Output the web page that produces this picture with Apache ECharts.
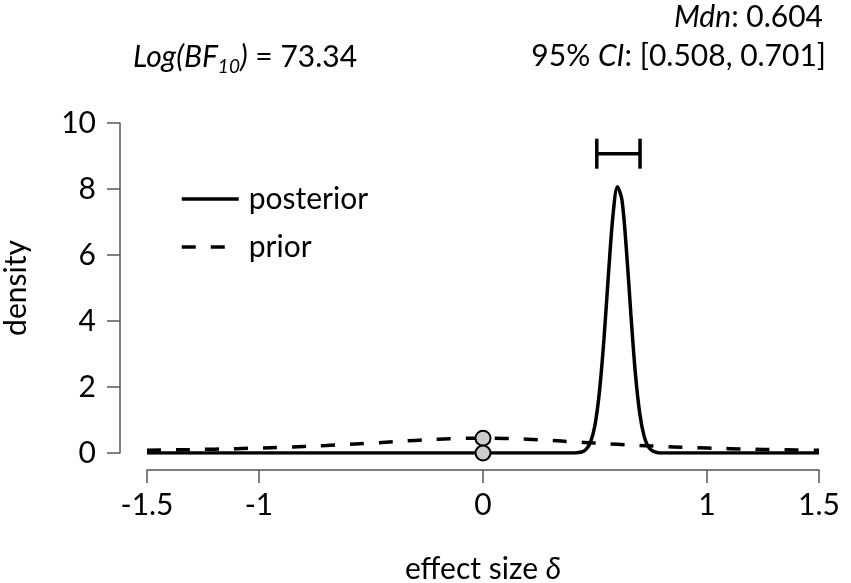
<!DOCTYPE html>
<html>
<head>
<meta charset="utf-8">
<script src="https://cdn.jsdelivr.net/npm/echarts@6/dist/echarts.min.js"></script>
<style>
  html, body { margin: 0; padding: 0; background: #fff; }
  #main { width: 851px; height: 583px; }
</style>
</head>
<body>
<div id="main"></div>
<script>
// values
var priorX = [-1.5, -1.4, -1.3, -1.2, -1.1, -1.0, -0.9, -0.8, -0.7, -0.6, -0.5, -0.4, -0.3, -0.2, -0.1, 0,
              0.1, 0.2, 0.3, 0.4, 0.5, 0.6, 0.7, 0.8, 0.9, 1.0, 1.1, 1.2, 1.3, 1.4, 1.5];
var priorY = [0.082, 0.092, 0.103, 0.116, 0.132, 0.150, 0.172, 0.198, 0.227, 0.262, 0.300, 0.341, 0.382, 0.417, 0.441, 0.450,
              0.441, 0.417, 0.382, 0.341, 0.300, 0.262, 0.227, 0.198, 0.172, 0.150, 0.132, 0.116, 0.103, 0.092, 0.082];

var postX = [-1.5, -1.0, -0.5, 0, 0.2, 0.3, 0.36, 0.40, 0.42, 0.44, 0.46, 0.48, 0.50, 0.52, 0.54, 0.56, 0.58, 0.60,
             0.62, 0.64, 0.66, 0.68, 0.70, 0.72, 0.74, 0.76, 0.78, 0.80, 0.84, 0.9, 1.0, 1.5];
var postY = [0, 0, 0, 0, 0, 0, 0, 0, 0.01, 0.03, 0.11, 0.33, 0.85, 1.87, 3.45, 5.41, 7.18, 8.07,
             7.68, 6.18, 4.22, 2.43, 1.19, 0.49, 0.17, 0.05, 0.01, 0, 0, 0, 0, 0];

var pointsAtZero = [[0, 0.45], [0, 0]];   // prior and posterior height at delta = 0
var ciBounds = [0.508, 0.701];
var ciHeight = 9.07;

var xTicks = [-1.5, -1, 0, 1, 1.5];

function pairs(xs, ys) {
	var out = [];
	for (var i = 0; i < xs.length; i++) {
		out.push([xs[i], ys[i]]);
	}
	return out;
}

var FONT = 'Lato';
var FS = 30;
var AXIS_GRAY = '#555555';

var chart = echarts.init(document.getElementById('main'), null, { renderer: 'canvas' });

var option = {
	animation: false,
	backgroundColor: '#ffffff',
	textStyle: { fontFamily: FONT, color: '#000' },
	grid: {
		left: 147,
		right: 32,
		top: 123,
		bottom: 130,
		containLabel: false,
		outerBoundsMode: 'none'
	},
	xAxis: {
		type: 'value',
		min: -1.5,
		max: 1.5,
		offset: 17,
		name: 'effect size {i|δ}',
		nameLocation: 'middle',
		nameGap: 84,
		nameTextStyle: {
			fontFamily: FONT,
			fontSize: FS,
			color: '#000',
			rich: {
				i: { fontFamily: FONT, fontSize: FS, fontStyle: 'italic', color: '#000' }
			}
		},
		splitLine: { show: false },
		axisLine: { show: true, onZero: false, lineStyle: { color: AXIS_GRAY, width: 1.5 } },
		axisTick: { show: true, length: 13, customValues: xTicks, lineStyle: { color: AXIS_GRAY, width: 1.5 } },
		axisLabel: {
			customValues: xTicks,
			margin: 20,
			fontFamily: FONT,
			fontSize: FS,
			color: '#000'
		}
	},
	yAxis: {
		type: 'value',
		min: 0,
		max: 10,
		interval: 2,
		offset: 27,
		name: 'density',
		nameLocation: 'middle',
		nameRotate: 90,
		nameGap: 89,
		nameTextStyle: { fontFamily: FONT, fontSize: FS, color: '#000' },
		splitLine: { show: false },
		axisLine: { show: true, onZero: false, lineStyle: { color: AXIS_GRAY, width: 1.5 } },
		axisTick: { show: true, length: 13, lineStyle: { color: AXIS_GRAY, width: 1.5 } },
		axisLabel: {
			margin: 24,
			fontFamily: FONT,
			fontSize: FS,
			color: '#000'
		}
	},
	legend: {
		data: [
			{ name: 'posterior' },
			{ name: 'prior' }
		],
		orient: 'vertical',
		left: 175,
		top: 179,
		itemWidth: 57,
		itemHeight: 30,
		itemGap: 18,
		selectedMode: false,
		lineStyle: { width: 3.5 },
		itemStyle: { color: 'rgba(0,0,0,0)', borderWidth: 0, opacity: 0 },
		textStyle: {
			fontFamily: FONT,
			fontSize: FS,
			color: '#000',
			padding: [0, 0, 0, 5]
		}
	},
	graphic: [
		{
			type: 'text',
			left: 133,
			top: 42,
			style: {
				text: '{i|Log(BF}{s|10}{i|)}{n| = 73.34}',
				rich: {
					i: { fontFamily: FONT, fontSize: FS, fontStyle: 'italic', lineHeight: 38, fill: '#000' },
					s: { fontFamily: FONT, fontSize: 19, fontStyle: 'italic', lineHeight: 19, verticalAlign: 'bottom', fill: '#000' },
					n: { fontFamily: FONT, fontSize: FS, lineHeight: 38, fill: '#000' }
				}
			}
		},
		{
			type: 'text',
			right: 28,
			top: 2,
			style: {
				text: '{i|Mdn}{n|: 0.604}',
				align: 'right',
				rich: {
					i: { fontFamily: FONT, fontSize: FS, fontStyle: 'italic', lineHeight: 38, fill: '#000' },
					n: { fontFamily: FONT, fontSize: FS, lineHeight: 38, fill: '#000' }
				}
			}
		},
		{
			type: 'text',
			right: 25,
			top: 41,
			style: {
				text: '{n|95% }{i|CI}{n|: [0.508, 0.701]}',
				align: 'right',
				rich: {
					i: { fontFamily: FONT, fontSize: FS, fontStyle: 'italic', lineHeight: 38, fill: '#000' },
					n: { fontFamily: FONT, fontSize: FS, lineHeight: 38, fill: '#000' }
				}
			}
		}
	],
	series: [
		{
			name: 'posterior',
			type: 'line',
			data: pairs(postX, postY),
			showSymbol: false,
			symbol: 'none',
			smooth: 0.3,
			z: 3,
			lineStyle: { color: '#000', width: 3.5, type: 'solid' },
			itemStyle: { color: '#000' }
		},
		{
			name: 'prior',
			type: 'line',
			data: pairs(priorX, priorY),
			showSymbol: false,
			symbol: 'none',
			smooth: true,
			z: 2,
			lineStyle: { color: '#000', width: 3.5, type: [14, 15] },
			itemStyle: { color: '#000' }
		},
		{
			name: 'ci',
			type: 'custom',
			data: [[ciBounds[0], ciBounds[1], ciHeight]],
			z: 4,
			renderItem: function (params, api) {
				var y = api.value(2);
				var l = api.coord([api.value(0), y]);
				var r = api.coord([api.value(1), y]);
				var h = 15;
				var st = { stroke: '#000', lineWidth: 3.5 };
				return {
					type: 'group',
					children: [
						{ type: 'line', shape: { x1: l[0], y1: l[1], x2: r[0], y2: r[1] }, style: st },
						{ type: 'line', shape: { x1: l[0], y1: l[1] - h, x2: l[0], y2: l[1] + h }, style: st },
						{ type: 'line', shape: { x1: r[0], y1: r[1] - h, x2: r[0], y2: r[1] + h }, style: st }
					]
				};
			}
		},
		{
			name: 'zero points',
			type: 'scatter',
			data: pointsAtZero,
			symbolSize: 15,
			z: 5,
			itemStyle: { color: '#cccccc', borderColor: '#000', borderWidth: 2, opacity: 1 }
		}
	]
};

chart.setOption(option);
</script>
</body>
</html>
